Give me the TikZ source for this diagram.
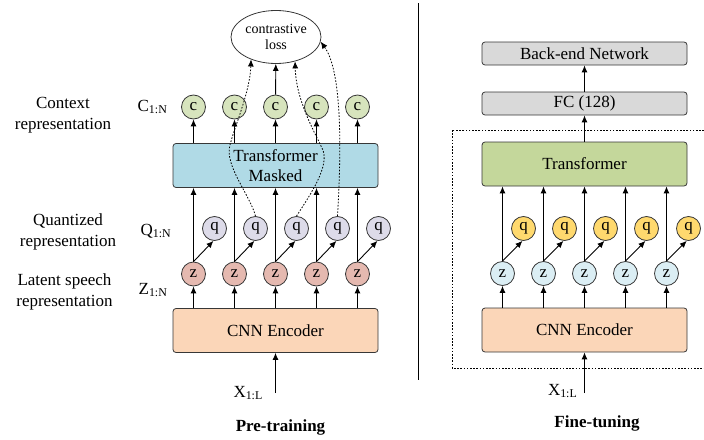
\documentclass[tikz,border=0pt]{standalone}
\usepackage{fontspec}
\setmainfont{LiberationSerif-Regular.ttf}[BoldFont=LiberationSerif-Bold.ttf]
\usetikzlibrary{arrows.meta,positioning,calc,shapes.geometric}
\definecolor{CtxGreen}{RGB}{215,228,189}
\definecolor{QLilac}{RGB}{221,219,233}
\definecolor{ZRose}{RGB}{229,185,176}
\definecolor{TfBlue}{RGB}{176,218,230}
\definecolor{CnnPeach}{RGB}{251,214,184}
\definecolor{TfGreen}{RGB}{196,215,155}
\definecolor{QGold}{RGB}{255,217,110}
\definecolor{ZIce}{RGB}{219,238,244}
\definecolor{BackGray}{RGB}{217,217,217}
\definecolor{Edge}{RGB}{55,55,55}
\tikzset{
  block/.style={draw=Edge,line width=0.8pt,rounded corners=3pt,minimum width=205pt,minimum height=44pt,inner sep=0pt,font=\fontsize{17}{20}\selectfont,align=center},
  smallblock/.style={block,fill=BackGray,minimum height=23pt},
  unit/.style={circle,draw=Edge,line width=0.8pt,minimum size=24pt,inner sep=0pt,font=\fontsize{17}{17}\selectfont},
  flow/.style={-{Latex[length=7pt,width=6pt]},line width=0.9pt},
  lossflow/.style={-{Latex[length=7pt,width=6pt]},line width=0.8pt,dash pattern=on 1.6pt off 1.6pt},
  sidelabel/.style={font=\fontsize{17}{21}\selectfont,align=center,inner sep=0pt},
  seqlabel/.style={font=\fontsize{17}{20}\selectfont,inner sep=0pt},
  phase/.style={font=\fontsize{17}{20}\selectfont\bfseries,inner sep=0pt}
}

\begin{document}
\begin{tikzpicture}[x=1pt,y=-1pt]
\useasboundingbox (0,0) rectangle (704,439);
\clip (0,0) rectangle (704,439);

% pre-training
\node[sidelabel] (ctxlab) at (63,115.5) {Context\\representation};
\node[sidelabel] (qlab) at (68,231.5) {Quantized\\representation};
\node[sidelabel] (zlab) at (64.5,292) {Latent speech\\representation};
\node[seqlabel] (cseq) at (152.5,107) {C\textsubscript{1:N}};
\node[seqlabel] (qseq) at (156,231) {Q\textsubscript{1:N}};
\node[seqlabel] (zseq) at (153,290) {Z\textsubscript{1:N}};

\node[ellipse,draw=Edge,line width=0.8pt,minimum width=90pt,minimum height=53pt,inner sep=0pt,align=center,font=\fontsize{14}{16}\selectfont] (loss) at (276,37) {contrastive\\loss};
\node[block,fill=TfBlue] (tfL) at (275.5,165.5) {Transformer\\Masked};
\node[block,fill=CnnPeach] (cnnL) at (275.5,330.5) {CNN Encoder};

\node[unit,fill=CtxGreen] (c1) at (193.5,107) {c};
\node[unit,fill=CtxGreen] (c2) at (234.5,107) {c};
\node[unit,fill=CtxGreen] (c3) at (275.5,107) {c};
\node[unit,fill=CtxGreen] (c4) at (316.5,107) {c};
\node[unit,fill=CtxGreen] (c5) at (357.5,107) {c};
\node[unit,fill=QLilac] (q1) at (214.5,228.5) {q};
\node[unit,fill=QLilac] (q2) at (255.5,228.5) {q};
\node[unit,fill=QLilac] (q3) at (296.5,228.5) {q};
\node[unit,fill=QLilac] (q4) at (337.5,228.5) {q};
\node[unit,fill=QLilac] (q5) at (378.5,228.5) {q};
\node[unit,fill=ZRose] (z1) at (193.5,274) {z};
\node[unit,fill=ZRose] (z2) at (234.5,274) {z};
\node[unit,fill=ZRose] (z3) at (275.5,274) {z};
\node[unit,fill=ZRose] (z4) at (316.5,274) {z};
\node[unit,fill=ZRose] (z5) at (357.5,274) {z};

\draw[flow](tfL.north -| c1)--(c1);\draw[flow](tfL.north -| c2)--(c2);\draw[flow](tfL.north -| c3)--(c3);\draw[flow](tfL.north -| c4)--(c4);\draw[flow](tfL.north -| c5)--(c5);
\draw[flow](z1.north)--(z1.north |- tfL.south);\draw[flow](z2.north)--(z2.north |- tfL.south);\draw[flow](z3.north)--(z3.north |- tfL.south);\draw[flow](z4.north)--(z4.north |- tfL.south);\draw[flow](z5.north)--(z5.north |- tfL.south);
\draw[flow](z1.north)--(q1.265);\draw[flow](z2.north)--(q2.265);\draw[flow](z3.north)--(q3.265);\draw[flow](z4.north)--(q4.265);\draw[flow](z5.north)--(q5.265);
\draw[flow](cnnL.north -| z1)--(z1);\draw[flow](cnnL.north -| z2)--(z2);\draw[flow](cnnL.north -| z3)--(z3);\draw[flow](cnnL.north -| z4)--(z4);\draw[flow](cnnL.north -| z5)--(z5);
\draw[flow](c3)--(loss);

% targets for the loss
\draw[lossflow](q2.north) .. controls (250,195) and (224,165) .. (230,145) .. controls (235,125) and (250,92) .. (loss.222);
\draw[lossflow](q3.north) .. controls (310,195) and (331,165) .. (322,148) .. controls (314,131) and (296,100) .. (loss.-52);
\draw[lossflow](q4.north) .. controls (342,140) and (341,70) .. (loss.-6);

\coordinate (xinL) at (275.5,393);
\draw[flow](xinL)--(cnnL);
\node[seqlabel,anchor=east] (xlabL) at (263,393) {X\textsubscript{1:L}};
\node[phase] (pre) at (280.5,427) {Pre-training};

\draw[line width=1.4pt] (418.5,3)--(418.5,380);

% fine-tuning
\draw[line width=0.8pt,dash pattern=on 1.6pt off 1.6pt] (452,130) rectangle (724,368);
\node[smallblock] (backend) at (584.5,53.5) {Back-end Network};
\node[smallblock] (fc) at (584.5,103.5) {FC (128)};
\node[block,fill=TfGreen] (tfR) at (584.5,164) {Transformer};
\node[block,fill=CnnPeach] (cnnR) at (584.5,330) {CNN Encoder};

\node[unit,fill=QGold] (fq1) at (523.5,228.5) {q};
\node[unit,fill=QGold] (fq2) at (564.5,228.5) {q};
\node[unit,fill=QGold] (fq3) at (605.5,228.5) {q};
\node[unit,fill=QGold] (fq4) at (646.5,228.5) {q};
\node[unit,fill=QGold] (fq5) at (688.5,228.5) {q};
\node[unit,fill=ZIce] (fz1) at (502.5,273.5) {z};
\node[unit,fill=ZIce] (fz2) at (543.5,273.5) {z};
\node[unit,fill=ZIce] (fz3) at (584.5,273.5) {z};
\node[unit,fill=ZIce] (fz4) at (625.5,273.5) {z};
\node[unit,fill=ZIce] (fz5) at (666.5,273.5) {z};

\draw[flow](fc)--(backend);\draw[flow](tfR)--(fc);
\draw[flow](fz1.north)--(fz1.north |- tfR.south);\draw[flow](fz2.north)--(fz2.north |- tfR.south);\draw[flow](fz3.north)--(fz3.north |- tfR.south);\draw[flow](fz4.north)--(fz4.north |- tfR.south);\draw[flow](fz5.north)--(fz5.north |- tfR.south);
\draw[flow](fz1.north)--(fq1.265);\draw[flow](fz2.north)--(fq2.265);\draw[flow](fz3.north)--(fq3.265);\draw[flow](fz4.north)--(fq4.265);\draw[flow](fz5.north)--(fq5.262);
\draw[flow](cnnR.north -| fz1)--(fz1);\draw[flow](cnnR.north -| fz2)--(fz2);\draw[flow](cnnR.north -| fz3)--(fz3);\draw[flow](cnnR.north -| fz4)--(fz4);\draw[flow](cnnR.north -| fz5)--(fz5);

\coordinate (xinR) at (584.5,393);
\draw[flow](xinR)--(cnnR);
\node[seqlabel,anchor=east] (xlabR) at (577.5,391) {X\textsubscript{1:L}};
\node[phase] (fine) at (597,423) {Fine-tuning};
\end{tikzpicture}
\end{document}
